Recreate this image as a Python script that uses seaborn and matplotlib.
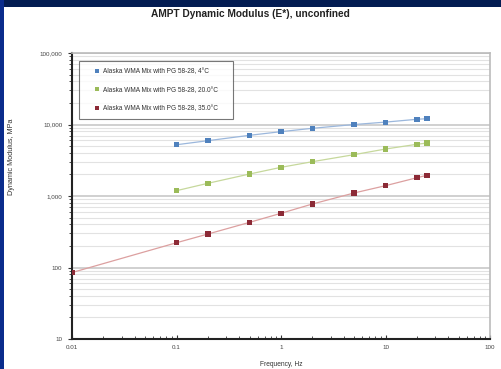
import matplotlib
matplotlib.use("Agg")
import matplotlib.pyplot as plt
import seaborn as sns
import pandas as pd
import numpy as np
from matplotlib.lines import Line2D
from matplotlib.patches import Rectangle
from matplotlib.ticker import FuncFormatter, LogLocator, NullFormatter

sns.set_theme(style="white")
plt.rcParams['font.family'] = ['Liberation Sans', 'DejaVu Sans']

title = "AMPT Dynamic Modulus (E*), unconfined"
xlabel = "Frequency, Hz"
ylabel = "Dynamic Modulus, MPa"

freq = [0.1, 0.2, 0.5, 1, 2, 5, 10, 20, 25]
freq_red = [0.01, 0.1, 0.2, 0.5, 1, 2, 5, 10, 20, 25]
e_4c = [5210, 5940, 7060, 7940, 8850, 9990, 10800, 11830, 12050]
e_20c = [1187, 1506, 2030, 2518, 3020, 3785, 4540, 5290, 5510]
e_35c = [85, 222, 294, 428, 573, 773, 1102, 1394, 1803, 1950]

labels = ["Alaska WMA Mix with PG 58-28, 4°C",
          "Alaska WMA Mix with PG 58-28, 20.0°C",
          "Alaska WMA Mix with PG 58-28, 35.0°C"]
marker_colors = ["#4f81bd", "#9bbb59", "#8c2a36"]
line_colors = ["#9bb7dc", "#c6d89c", "#dca0a0"]

df = pd.concat([
    pd.DataFrame({"freq": freq, "E": e_4c, "series": labels[0]}),
    pd.DataFrame({"freq": freq, "E": e_20c, "series": labels[1]}),
    pd.DataFrame({"freq": freq_red, "E": e_35c, "series": labels[2]}),
], ignore_index=True)

fig = plt.figure(figsize=(5.01, 3.69), dpi=100)
fig.patch.set_facecolor("white")
ax = fig.add_axes([72/501, 30/369, 418/501, 286/369])

pal_line = dict(zip(labels, line_colors))
pal_mark = dict(zip(labels, marker_colors))
sns.lineplot(data=df, x="freq", y="E", hue="series", palette=pal_line,
             linewidth=0.9, legend=False, ax=ax, sort=True)
sns.scatterplot(data=df, x="freq", y="E", hue="series", palette=pal_mark,
                marker="s", s=14, linewidth=0, legend=False, ax=ax, zorder=5)

ax.set_xscale("log")
ax.set_yscale("log")
ax.set_xlim(0.01, 100)
ax.set_ylim(10, 100000)

fmt = FuncFormatter(lambda v, p: f"{v:,.0f}")
ax.yaxis.set_major_formatter(fmt)
ax.yaxis.set_minor_formatter(NullFormatter())
ax.xaxis.set_major_formatter(FuncFormatter(lambda v, p: f"{v:g}"))
ax.xaxis.set_minor_formatter(NullFormatter())
ax.yaxis.set_minor_locator(LogLocator(base=10, subs=np.arange(2, 10), numticks=20))
ax.xaxis.set_minor_locator(LogLocator(base=10, subs=np.arange(2, 10), numticks=20))

ax.grid(which="major", axis="y", color="#c8c8c8", linewidth=1.2)
ax.grid(which="minor", axis="y", color="#e2e2e2", linewidth=0.8)
ax.set_axisbelow(True)

ax.tick_params(axis="both", which="major", labelsize=4.5, colors="#333333",
               length=3, width=0.8, direction="out", pad=4)
ax.tick_params(axis="both", which="minor", length=2, width=0.6, color="#333333")
ax.tick_params(left=True, bottom=True, which="both")
ax.tick_params(axis="x", which="both", direction="in")
for lab in ax.get_xticklabels() + ax.get_yticklabels():
    lab.set_color("#444444")

ax.spines["left"].set_color("#222222")
ax.spines["left"].set_linewidth(1.5)
ax.spines["bottom"].set_color("#222222")
ax.spines["bottom"].set_linewidth(1.5)
ax.spines["top"].set_color("#bbbbbb")
ax.spines["right"].set_color("#bbbbbb")
ax.spines["top"].set_linewidth(1.2)
ax.spines["right"].set_linewidth(1.2)

ax.set_xlabel(xlabel, fontsize=4.8, color="#333333", labelpad=8)
ax.set_ylabel(ylabel, fontsize=5.2, color="#333333")
ax.yaxis.set_label_coords(-0.136, 0.636)

handles = [Line2D([], [], linestyle="none", marker="s", markersize=3,
                  markerfacecolor=c, markeredgewidth=0) for c in marker_colors]
leg = ax.legend(handles, labels, loc="upper left",
                bbox_to_anchor=(0.017, 0.5, 154/418, 0.472), mode="expand",
                fontsize=4.7, frameon=True, fancybox=False, shadow=False,
                labelspacing=1.75, borderpad=1.1, handlelength=3.4, handletextpad=-0.9,
                borderaxespad=0)
leg.get_frame().set_edgecolor("#555555")
leg.get_frame().set_linewidth(0.8)
for t in leg.get_texts():
    t.set_color("#333333")

fig.text(0.5, 1 - 14/369, title, ha="center", va="center", fontsize=7.3,
         fontweight="bold", color="#222222")

# slide frame
fig.patches.append(Rectangle((0, 1 - 7/369), 1, 7/369, transform=fig.transFigure,
                             facecolor="#031c52", edgecolor="none", zorder=10))
fig.patches.append(Rectangle((0, 0), 4/501, 1, transform=fig.transFigure,
                             facecolor="#0a2c8c", edgecolor="none", zorder=10))

fig.savefig("out.png", dpi=100)
